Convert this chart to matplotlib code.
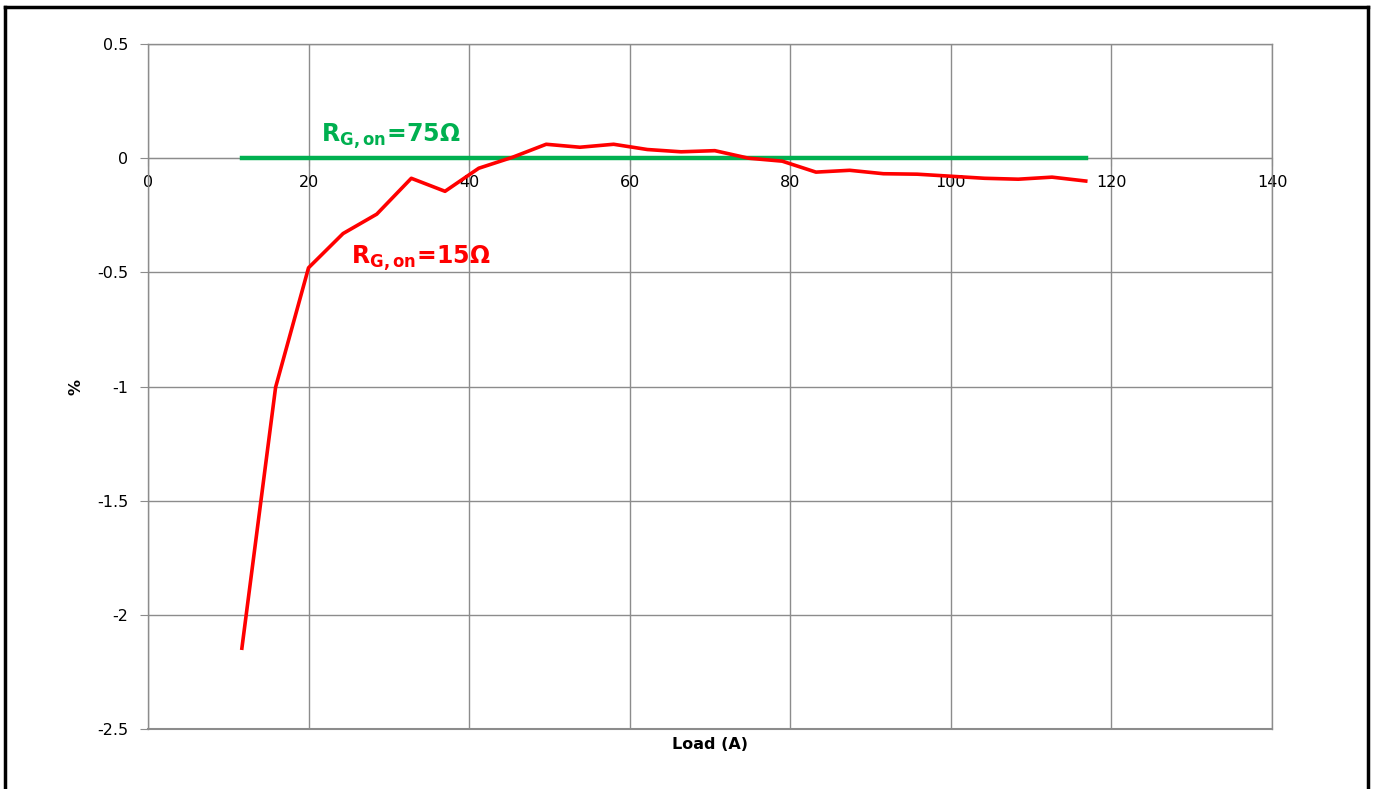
import matplotlib.pyplot as plt
from matplotlib.lines import Line2D
import numpy as np

# load current (A) and deviation (%)
load = [11.7, 15.9, 20.0, 24.3, 28.5, 32.8, 37.0, 41.2, 45.4, 49.6, 53.8, 58.0, 62.2,
        66.4, 70.6, 74.8, 79.0, 83.2, 87.4, 91.6, 95.8, 100.0, 104.2, 108.4, 112.6, 116.8]
dev_15 = [-2.146, -1.003, -0.48, -0.33, -0.245, -0.088, -0.145, -0.044, 0.004, 0.061,
          0.048, 0.061, 0.038, 0.028, 0.033, 0.0, -0.013, -0.061, -0.053, -0.068,
          -0.07, -0.079, -0.088, -0.092, -0.083, -0.1]
dev_75 = [0.0] * len(load)

red = "#ff0000"
green = "#00b050"
gray = "#8c8c8c"

fig = plt.figure(figsize=(13.75, 7.89), dpi=100)
ax = fig.add_axes([0.1076, 0.0760, 0.8175, 0.8682])

#plot frame around the whole figure
for xs, ys in [([0.0036, 0.0036], [-0.01, 0.991]), ([0.0036, 0.9949], [0.991, 0.991]),
               ([0.9949, 0.9949], [0.991, -0.01])]:
    fig.add_artist(Line2D(xs, ys, color="black", linewidth=2.5, transform=fig.transFigure))

ax.plot(load, dev_75, color=green, linewidth=3.2, zorder=3)
ax.plot(load, dev_15, color=red, linewidth=2.6, zorder=4)

ax.set_xlim(0, 140)
ax.set_ylim(-2.5, 0.5)
ax.set_xticks(np.arange(0, 141, 20))
ax.set_yticks(np.arange(-2.5, 0.51, 0.5))
ax.set_yticklabels(["-2.5", "-2", "-1.5", "-1", "-0.5", "0", "0.5"])

ax.grid(True, color=gray, linewidth=1)
ax.set_axisbelow(True)

#axis lines
for s in ["top", "right", "left"]:
    ax.spines[s].set_color(gray)
    ax.spines[s].set_linewidth(1)
ax.spines["bottom"].set_position(("data", 0))
ax.spines["bottom"].set_color(gray)
ax.axhline(-2.5, color=gray, linewidth=1.5, clip_on=False)

ax.tick_params(axis="x", direction="out", length=6, color=gray, labelsize=11.5, pad=6)
ax.tick_params(axis="y", direction="out", length=6, color=gray, labelsize=11.5, pad=8)

ax.set_xlabel("Load (A)", fontsize=11.5, fontweight="bold", labelpad=0)
ax.xaxis.set_label_coords(0.5, -0.012)
ax.set_ylabel("%", fontsize=11.5, fontweight="bold")
ax.yaxis.set_label_coords(-0.057, 0.5)

ax.text(21.5, 0.073, r"R$_{\mathbf{G,on}}$=75Ω", color=green, fontsize=17, fontweight="bold")
ax.text(25.3, -0.463, r"R$_{\mathbf{G,on}}$=15Ω", color=red, fontsize=17, fontweight="bold")

plt.savefig("out.png", dpi=100)
